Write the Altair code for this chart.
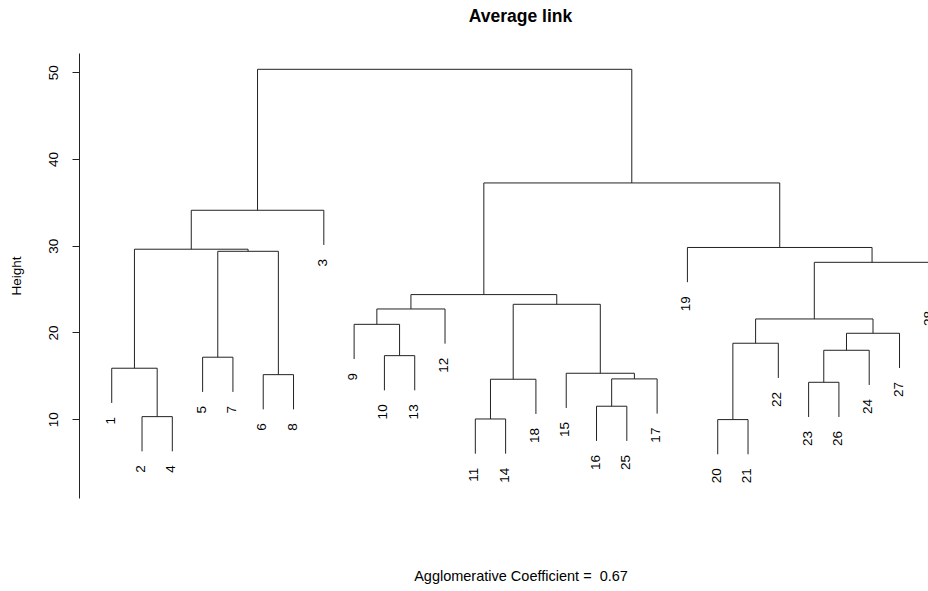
import altair as alt
import pandas as pd

# Leaf order along the x axis (left to right)
leaf_order = [1, 2, 4, 5, 7, 6, 8, 3, 9, 10, 13, 12, 11, 14, 18, 15, 16, 25, 17,
              19, 20, 21, 22, 23, 26, 24, 27, 28]

# Merge steps: children (int = leaf, "mN" = earlier merge) and merge height
merge_names = ["m1", "m2", "m3", "m4", "m5", "m6", "m7", "m8", "m9", "m10",
               "m11", "m12", "m13", "m14", "m15", "m16", "m17", "m18", "m19",
               "m20", "m21", "m22", "m23", "m24", "m25", "m26", "m27"]
merge_left = [2, 1, 5, 6, "m3", "m2", "m6", 10, 9, "m9",
              11, "m11", 16, "m13", 15, "m12", "m10", 20, "m18",
              23, "m20", "m21", "m19", "m23", 19, "m17", "m7"]
merge_right = [4, "m1", 7, 8, "m4", "m5", 3, 13, "m8", 12,
               14, 18, 25, 17, "m14", "m15", "m16", 21, 22,
               26, 24, 27, "m22", 28, "m24", "m25", "m26"]
merge_height = [10.30, 15.88, 17.15, 15.14, 29.36, 29.60, 34.09, 17.33, 20.94, 22.71,
                10.03, 14.61, 11.50, 14.65, 15.30, 23.25, 24.37, 9.96, 18.76,
                14.26, 17.95, 19.91, 21.56, 28.09, 29.80, 37.24, 50.34]

hang = 4.0
y_ticks = [10, 20, 30, 40, 50]

node_x = {leaf: i + 1 for i, leaf in enumerate(leaf_order)}
node_h = {}
segs = []
labels = []
for name, a, b, h in zip(merge_names, merge_left, merge_right, merge_height):
    xa, xb = node_x[a], node_x[b]
    segs.append({"x": xa, "x2": xb, "y": h, "y2": h})
    for c in (a, b):
        if c in node_h:
            bottom = node_h[c]
        else:
            bottom = h - hang
            labels.append({"x": node_x[c], "y": bottom, "label": str(c)})
        segs.append({"x": node_x[c], "x2": node_x[c], "y": bottom, "y2": h})
    node_x[name] = (xa + xb) / 2
    node_h[name] = h

seg_df = pd.DataFrame(segs)
lab_df = pd.DataFrame(labels)

FONT = "Liberation Sans"
xscale = alt.Scale(domain=[-0.08, 27.94], zero=False, nice=False)
yscale = alt.Scale(domain=[0.92, 52.22], zero=False, nice=False)

lines = alt.Chart(seg_df).mark_rule(color="#222222", strokeWidth=1, clip=True).encode(
    x=alt.X("x:Q", scale=xscale, axis=alt.Axis(
        title="Agglomerative Coefficient =\u00a0 0.67", domain=False, ticks=False,
        labels=False, grid=False, titleFont=FONT, titleFontSize=14.5,
        titleFontWeight="normal", titleColor="black", titleX=441.5, titleY=78,
        titleAlign="center", titleBaseline="middle")),
    x2="x2:Q",
    y=alt.Y("y:Q", scale=yscale, axis=alt.Axis(
        title="Height", values=y_ticks, grid=False, tickSize=7, tickColor="#222222",
        domainColor="#222222", labelAngle=270, labelAlign="center",
        labelBaseline="middle", labelPadding=19, labelFont=FONT, labelFontSize=13.5,
        labelColor="black", titleFont=FONT, titleFontSize=13.5, titleFontWeight="normal",
        titleColor="black", titleAngle=270, titleX=-63, titleY=222.5,
        titleAlign="center", titleBaseline="middle")),
    y2="y2:Q",
)

texts = alt.Chart(lab_df).mark_text(
    angle=270, align="right", baseline="middle", dx=-14, dy=-1,
    font=FONT, fontSize=13.5, color="black", clip=True
).encode(x=alt.X("x:Q", scale=xscale), y=alt.Y("y:Q", scale=yscale), text="label:N")

chart = alt.layer(lines, texts).properties(
    width=849, height=445,
    autosize=alt.AutoSizeParams(type="none"),
    padding={"left": 79, "top": 53, "right": 0, "bottom": 93},
    title=alt.TitleParams("Average link", font=FONT, fontSize=17.5, fontWeight="bold",
                          color="black", anchor="middle", dx=17, dy=16, offset=30,
                          baseline="alphabetic"),
).configure_view(stroke=None)

chart.save("out.html", embed_options={"renderer": "svg", "actions": False})
